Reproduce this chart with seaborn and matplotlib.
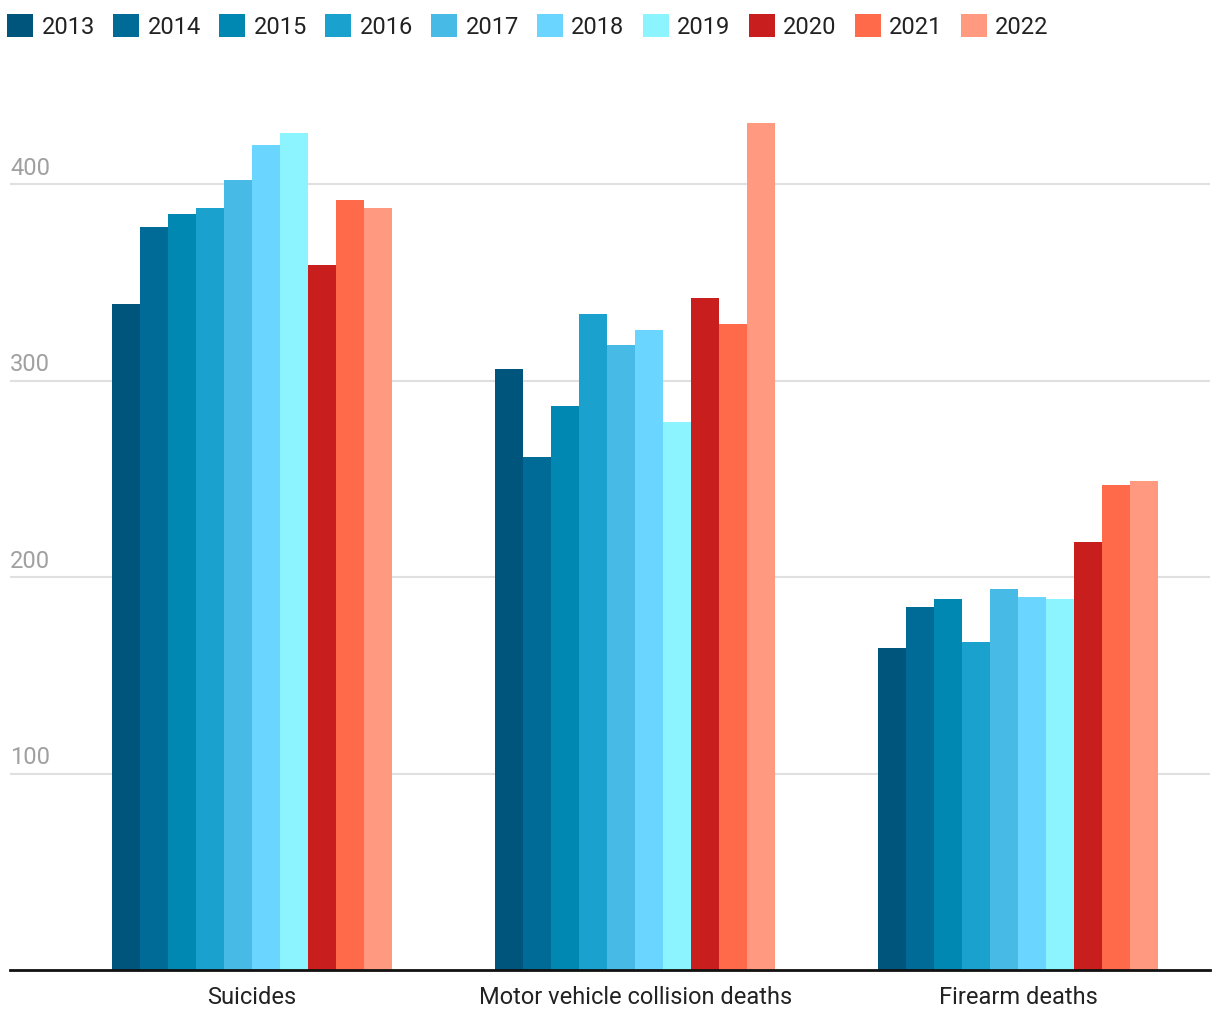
import pandas as pd
import matplotlib.pyplot as plt
import seaborn as sns
from matplotlib.patches import Patch

# Data
causes = ['Suicides', 'Motor vehicle collision deaths', 'Firearm deaths']
years = ['2013', '2014', '2015', '2016', '2017', '2018', '2019', '2020', '2021', '2022']
suicides = [339, 378, 385, 388, 402, 420, 426, 359, 392, 388]
motor_vehicle = [306, 261, 287, 334, 318, 326, 279, 342, 329, 431]
firearm = [164, 185, 189, 167, 194, 190, 189, 218, 247, 249]
y_ticks = [100, 200, 300, 400]

colors = ['#00557C', '#006B96', '#0088B3', '#1AA1CE', '#47BAE6',
          '#6AD6FF', '#8BF4FF', '#C81E1E', '#FF6A4B', '#FF9A80']

rows = []
for cause, vals in zip(causes, [suicides, motor_vehicle, firearm]):
    for yr, v in zip(years, vals):
        rows.append({'cause': cause, 'year': yr, 'value': v})
df = pd.DataFrame(rows)

sns.set_style('white')
plt.rcParams['font.family'] = ['Roboto', 'DejaVu Sans']

fig = plt.figure(figsize=(12.2, 10.2), dpi=100)
ax = fig.add_axes([10 / 1220, 49 / 1020, 1200 / 1220, 884 / 1020])

sns.barplot(data=df, x='cause', y='value', hue='year', hue_order=years,
            order=causes, palette=colors, width=0.731, saturation=1,
            errorbar=None, legend=False, ax=ax, linewidth=0, zorder=3)

ax.set_xlim(-0.632, 2.501)
ax.set_ylim(0, 450)
ax.set_yticks(y_ticks)
ax.set_yticklabels([])
ax.tick_params(axis='y', length=0)
ax.tick_params(axis='x', length=0, labelsize=17, colors='#222222', pad=11)
ax.grid(axis='y', color='#e0e0e0', linewidth=1.5, zorder=0)
ax.set_xlabel('')
ax.set_ylabel('')
for s in ['left', 'right', 'top']:
    ax.spines[s].set_visible(False)
ax.spines['bottom'].set_color('#111111')
ax.spines['bottom'].set_linewidth(2)
ax.spines['bottom'].set_zorder(5)

# y labels sit above the gridlines, inside the plot
for t in y_ticks:
    ax.annotate(str(t), xy=(0, t), xycoords=('axes fraction', 'data'),
                xytext=(0, 4), textcoords='offset points',
                ha='left', va='bottom', fontsize=17, color='#a0a0a0')

handles = [Patch(facecolor=c, edgecolor='none') for c in colors]
fig.legend(handles, years, loc='upper left', bbox_to_anchor=(-0.0074, 1.0015),
           ncol=10, frameon=False, fontsize=17, handlelength=1.1,
           handleheight=1.1, handletextpad=0.35, columnspacing=0.78,
           borderaxespad=0.3, labelcolor='#222222')

fig.savefig('out.png', dpi=100)
